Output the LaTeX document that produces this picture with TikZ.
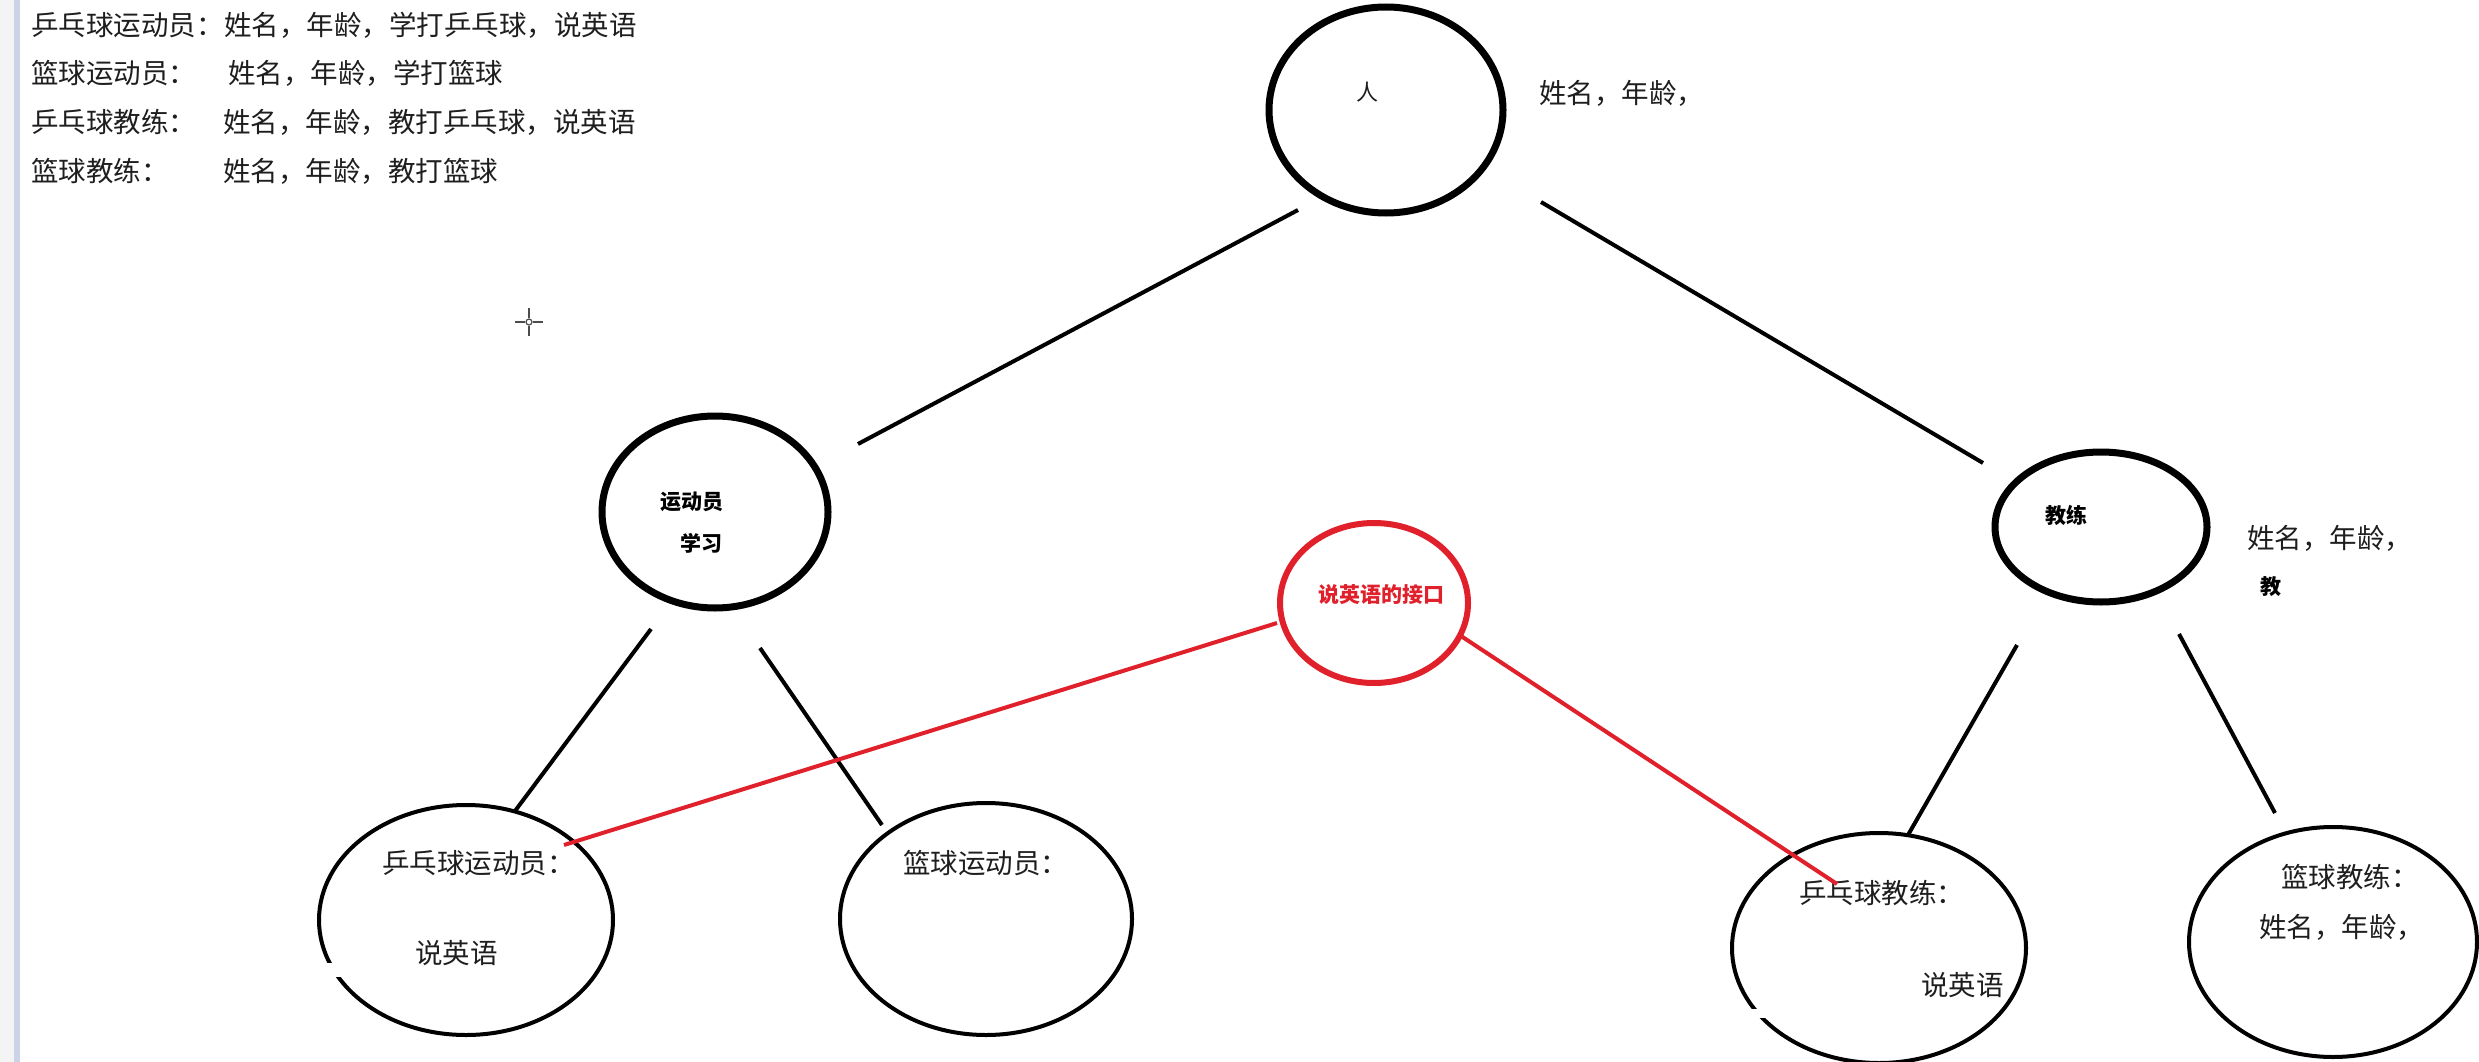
\documentclass[tikz,border=0pt]{standalone}
\usepackage{fontspec}
\setmainfont{Noto Sans CJK SC}
\usetikzlibrary{shapes.geometric,calc}
\definecolor{ink}{HTML}{1E1E1E}
\definecolor{redink}{HTML}{E0202A}
\definecolor{barblue}{HTML}{CBD3E6}
\definecolor{stripgray}{HTML}{F4F4F4}
\begin{document}
\begin{tikzpicture}[x=1pt,y=-1pt,
  big/.style={draw=black,line width=7pt,ellipse,inner sep=0pt,outer sep=0pt},
  leaf/.style={draw=black,line width=4pt,ellipse,inner sep=0pt,outer sep=0pt},
  iface/.style={draw=redink,line width=6pt,ellipse,inner sep=0pt,outer sep=0pt},
  conn/.style={draw=black,line width=4pt},
  rconn/.style={draw=redink,line width=4pt},
  txt/.style={text=ink,inner sep=0pt,anchor=west,font=\fontsize{27.5}{30}\selectfont},
  btxt/.style={text=black,inner sep=0pt,font=\bfseries\fontsize{21}{24}\selectfont},
]
\useasboundingbox (0,0) rectangle (2479,1062);
\fill[white] (0,0) rectangle (2479,1062);
\fill[stripgray] (0,0) rectangle (14,1062);
\fill[barblue] (14,0) rectangle (20,1062);

% top-left text
\node[txt] (l1a) at (31,25) {乒乓球运动员：};
\node[txt] (l1b) at (224,25) {姓名，年龄，学打乒乓球，说英语};
\node[txt] (l2a) at (31,73) {篮球运动员：};
\node[txt] (l2b) at (228,73) {姓名，年龄，学打篮球};
\node[txt] (l3a) at (31,122) {乒乓球教练：};
\node[txt] (l3b) at (223,122) {姓名，年龄，教打乒乓球，说英语};
\node[txt] (l4a) at (31,171) {篮球教练：};
\node[txt] (l4b) at (223,171) {姓名，年龄，教打篮球};

% circles
\node[big,minimum width=234pt,minimum height=206pt] (ren) at (1386,110) {};
\node[big,minimum width=226pt,minimum height=192pt] (ydy) at (715,512) {};
\node[big,minimum width=212pt,minimum height=150pt] (jl) at (2101,527) {};
\node[iface,minimum width=188pt,minimum height=160pt] (eng) at (1374,603) {};
\node[leaf,minimum width=294pt,minimum height=230pt] (ppyd) at (466,920) {};
\node[leaf,minimum width=292pt,minimum height=232pt] (lqyd) at (986,919) {};
\node[leaf,minimum width=294pt,minimum height=230pt] (ppjl) at (1879,948) {};
\node[leaf,minimum width=288pt,minimum height=230pt] (lqjl) at (2333,942) {};

% small gaps in the lower circles
\fill[white] (322,963) rectangle (342,977);
\fill[white] (1746,1009) rectangle (1766,1018);

% texts in and beside circles
\node[text=ink,inner sep=0pt,font=\fontsize{22}{24}\selectfont] (renT) at (1367,92) {人};
\node[txt] (renA) at (1539,93) {姓名，年龄，};
\node[btxt,anchor=west] (ydyT) at (660,502) {运动员};
\node[btxt,anchor=west] (ydyT2) at (680,543) {学习};
\node[btxt] (jlT) at (2066,515) {教练};
\node[txt] (jlA) at (2247,538) {姓名，年龄，};
\node[btxt] (jlA2) at (2271,587) {教};
\node[btxt,text=redink,anchor=west] (engT) at (1318,595) {说英语的接口};
\node[txt] (ppydT) at (382,863) {乒乓球运动员：};
\node[txt] (ppydT2) at (415,953) {说英语};
\node[txt] (lqydT) at (903,863) {篮球运动员：};
\node[txt] (ppjlT) at (1799,893) {乒乓球教练：};
\node[txt] (ppjlT2) at (1921,985) {说英语};
\node[txt] (lqjlT) at (2281,877) {篮球教练：};
\node[txt] (lqjlT2) at (2259,927) {姓名，年龄，};

% connector end points
\coordinate (renL) at ($(ren.center)+(-88,100)$);
\coordinate (renR) at ($(ren.center)+(155,92)$);
\coordinate (ydyUp) at ($(ydy.center)+(143,-68)$);
\coordinate (jlUp) at ($(jl.center)+(-118,-64)$);
\coordinate (ydyL) at ($(ydy.center)+(-64,117)$);
\coordinate (ydyR) at ($(ydy.center)+(45,136)$);
\coordinate (ppydUp) at ($(ppyd.center)+(49,-109)$);
\coordinate (lqydUp) at ($(lqyd.center)+(-104,-94)$);
\coordinate (jlL) at ($(jl.center)+(-84,118)$);
\coordinate (jlR) at ($(jl.center)+(78,107)$);
\coordinate (ppjlUp) at ($(ppjl.center)+(29,-113)$);
\coordinate (lqjlUp) at ($(lqjl.center)+(-58,-129)$);
\coordinate (engL) at ($(eng.center)+(-97,20)$);
\coordinate (engR) at ($(eng.center)+(87,33)$);
\coordinate (ppydR) at ($(ppyd.center)+(98,-75)$);
\coordinate (ppjlIn) at ($(ppjl.center)+(-42,-64)$);

% connectors
\draw[conn] (renL) -- (ydyUp);
\draw[conn] (renR) -- (jlUp);
\draw[conn] (ydyL) -- (ppydUp);
\draw[conn] (ydyR) -- (lqydUp);
\draw[conn] (jlL) -- (ppjlUp);
\draw[conn] (jlR) -- (lqjlUp);
\draw[rconn] (engL) -- (ppydR);
\draw[rconn] (engR) -- (ppjlIn);

% mouse cursor
\coordinate (cur) at (529,322);
\draw[black!70,line width=2pt] ($(cur)+(-14,0)$) -- ($(cur)+(-4,0)$)
  ($(cur)+(4,0)$) -- ($(cur)+(14,0)$)
  ($(cur)+(0,-14)$) -- ($(cur)+(0,-4)$)
  ($(cur)+(0,4)$) -- ($(cur)+(0,14)$);
\draw[black!70,line width=1.2pt] (cur) circle (3);
\end{tikzpicture}
\end{document}
